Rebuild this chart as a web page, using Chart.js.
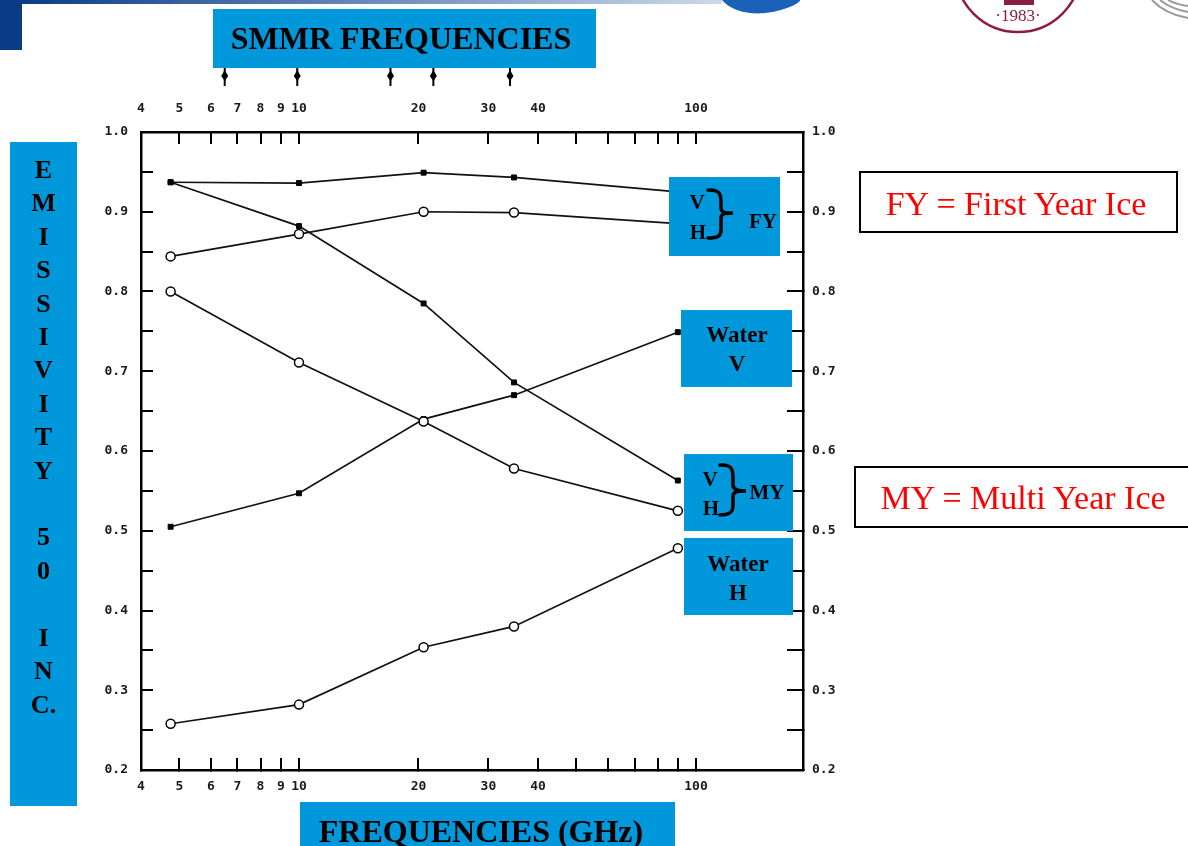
<!DOCTYPE html>
<html>
<head>
<meta charset="utf-8">
<script src="https://cdn.jsdelivr.net/npm/chart.js@4.4.1/dist/chart.umd.min.js"></script>
<style>
  html, body { margin: 0; padding: 0; background: #fff; }
  #page { position: relative; width: 1188px; height: 846px; overflow: hidden;
          font-family: "Liberation Serif", "Times New Roman", serif; }
  #page canvas { position: absolute; left: 0; top: 0; }
  .box { position: absolute; background: #0098da; }
  .t { position: absolute; transform: translate(-50%, -50%); font-weight: bold;
       color: #000; white-space: nowrap; line-height: 1; }
  .legend { position: absolute; box-sizing: border-box; border: 2px solid #000; background: #fff; }
  .red { position: absolute; transform: translate(-50%, -50%); color: #ff0000;
         font-size: 34px; line-height: 1; white-space: nowrap; }
  #vtext { position: absolute; left: 10px; top: 153px; width: 67px; text-align: center;
           font-weight: bold; font-size: 26px; line-height: 33.4px; }
  #deco { position: absolute; left: 0; top: 0; pointer-events: none; }
</style>
</head>
<body>
<div id="page">
  <canvas id="chart" width="1188" height="846"></canvas>

  <div class="box" style="left:213px;top:9px;width:383px;height:59px;"></div>
  <div class="box" style="left:10px;top:142px;width:67px;height:664px;"></div>
  <div class="box" style="left:300px;top:802px;width:375px;height:50px;"></div>
  <div class="box" style="left:669px;top:177px;width:111px;height:79px;"></div>
  <div class="box" style="left:681px;top:310px;width:111px;height:77px;"></div>
  <div class="box" style="left:684px;top:454px;width:109px;height:77px;"></div>
  <div class="box" style="left:684px;top:538px;width:109px;height:77px;"></div>

  <div class="legend" style="left:859px;top:171px;width:319px;height:62px;"></div>
  <div class="legend" style="left:854px;top:466px;width:345px;height:62px;"></div>

  <svg id="deco" width="1188" height="846">
    <defs>
      <linearGradient id="bar" x1="0" x2="1" y1="0" y2="0">
        <stop offset="0" stop-color="#0b3d86"/>
        <stop offset="1" stop-color="#cdd9ea"/>
      </linearGradient>
    </defs>
    <rect x="0" y="0" width="22" height="50" fill="#0b3d86"/>
    <rect x="22" y="0" width="700" height="4" fill="url(#bar)"/>
    <path d="M722 0 C730 10 748 15 765 13 C780 11 793 7 800 1 L800 0 Z" fill="#1a62b8"/>
    <circle cx="1018" cy="-31" r="63" fill="none" stroke="#8c1d40" stroke-width="2.5"/>
    <rect x="1004" y="0" width="30" height="5" fill="#8c1d40"/>
    <text x="1018" y="21" font-size="17" fill="#8c1d40" text-anchor="middle"
          font-family="Liberation Serif, serif">·1983·</text>
    <g fill="none" stroke="#9a9a9a" stroke-width="2">
      <path d="M1152 0 Q1165 14 1188 18"/>
      <path d="M1160 0 Q1171 9 1188 12"/>
      <path d="M1168 0 Q1177 5 1188 6"/>
    </g>
    <g fill="none" stroke="#000" stroke-width="3.5" stroke-linecap="round">
      <path d="M708 190 C721 189 721 196 721 204 L721 208 C721 212 724 213 733 213 C724 213 721 214 721 218 L721 230 C721 236 718 238 708 238"/>
      <path d="M720 465 C733 464 733 471 733 479 L733 485 C733 489 736 491 746 491 C736 491 733 492 733 496 L733 506 C733 512 730 515 720 515"/>
    </g>
  </svg>

  <div class="t" style="left:401px;top:38px;font-size:32px;">SMMR FREQUENCIES</div>
  <div class="t" style="left:481px;top:831px;font-size:32px;">FREQUENCIES (GHz)</div>
  <div id="vtext">E<br>M<br>I<br>S<br>S<br>I<br>V<br>I<br>T<br>Y<br>&nbsp;<br>5<br>0<br>&nbsp;<br>I<br>N<br>C.</div>

  <div class="t" style="left:697px;top:202px;font-size:21px;">V</div>
  <div class="t" style="left:698px;top:232px;font-size:21px;">H</div>
  <div class="t" style="left:763px;top:221px;font-size:21px;">FY</div>

  <div class="t" style="left:737px;top:334px;font-size:23px;">Water</div>
  <div class="t" style="left:737px;top:363px;font-size:23px;">V</div>

  <div class="t" style="left:710px;top:479px;font-size:21px;">V</div>
  <div class="t" style="left:711px;top:508px;font-size:21px;">H</div>
  <div class="t" style="left:767px;top:492px;font-size:21px;">MY</div>

  <div class="t" style="left:738px;top:563px;font-size:23px;">Water</div>
  <div class="t" style="left:738px;top:592px;font-size:23px;">H</div>

  <div class="red" style="left:1016px;top:204px;">FY = First Year Ice</div>
  <div class="red" style="left:1023px;top:498px;">MY = Multi Year Ice</div>
</div>

<script>
// frequencies (GHz) of the measured points
const freqs = [4.75, 10, 20.6, 34.8, 90];

// emissivity at 50 deg incidence
const fyV = [0.937, 0.936, 0.949, 0.943, 0.925];
const fyH = [0.844, 0.872, 0.900, 0.899, 0.885];
const myV = [0.937, 0.882, 0.785, 0.686, 0.563];
const myH = [0.800, 0.711, 0.637, 0.578, 0.525];
const waterV = [0.505, 0.547, 0.640, 0.670, 0.749];
const waterH = [0.258, 0.282, 0.354, 0.380, 0.478];

// SMMR channel arrows on the top axis
const smmrFreqs = [6.5, 9.9, 17, 21.8, 34];

const xTickValues = [4, 5, 6, 7, 8, 9, 10, 20, 30, 40, 50, 60, 70, 80, 90, 100];
const xTickLabels = ['4', '5', '6', '7', '8', '9', '10', '20', '30', '40', '', '', '', '', '', '100'];
const yTickValues = [0.2, 0.25, 0.3, 0.35, 0.4, 0.45, 0.5, 0.55, 0.6, 0.65, 0.7, 0.75, 0.8, 0.85, 0.9, 0.95, 1.0];
const yTickLabels = ['0.2', '', '0.3', '', '0.4', '', '0.5', '', '0.6', '', '0.7', '', '0.8', '', '0.9', '', '1.0'];

const toPoints = (vals) => freqs.map((f, i) => ({ x: f, y: vals[i] }));

const square = { pointStyle: 'rect', pointRadius: 3.5, pointBackgroundColor: '#000',
                 pointBorderColor: '#000', pointBorderWidth: 1 };
const circle = { pointStyle: 'circle', pointRadius: 4.5, pointBackgroundColor: '#fff',
                 pointBorderColor: '#000', pointBorderWidth: 1.5 };
const lineStyle = { borderColor: '#111', borderWidth: 1.7, fill: false, tension: 0 };

const tickFont = { family: 'DejaVu Sans Mono', size: 13, weight: 'bold' };
const tickGrid = (len) => ({ drawOnChartArea: false, drawTicks: true, tickLength: -len,
                             color: '#000', lineWidth: 2 });
const axisBorder = { display: true, color: '#000', width: 2.5 };

const setXTicks = (s) => { s.ticks = xTickValues.map(v => ({ value: v })); };
const setYTicks = (s) => { s.ticks = yTickValues.map(v => ({ value: v })); };

const xAxis = (position, height, padding) => ({
  type: 'logarithmic', position, min: 4, max: 186,
  afterBuildTicks: setXTicks,
  afterFit: (s) => { s.height = height; },
  border: axisBorder, grid: tickGrid(12),
  ticks: { autoSkip: false, maxRotation: 0, minRotation: 0, padding, color: '#1a1a1a',
           font: tickFont, callback: (v, i) => xTickLabels[i] }
});

const yAxis = (position, width, len, padding) => ({
  type: 'linear', position, min: 0.2, max: 1.0,
  afterBuildTicks: setYTicks,
  afterFit: (s) => { s.width = width; },
  border: axisBorder, grid: tickGrid(len),
  ticks: { autoSkip: false, padding, color: '#1a1a1a', font: tickFont,
           callback: (v, i) => yTickLabels[i] }
});

const smmrArrows = {
  id: 'smmrArrows',
  afterDraw(chart) {
    const s = chart.scales.x2;
    const ctx = chart.ctx;
    ctx.save();
    ctx.strokeStyle = '#000';
    ctx.fillStyle = '#000';
    ctx.lineWidth = 2;
    smmrFreqs.forEach(f => {
      const x = s.getPixelForValue(f);
      ctx.beginPath();
      ctx.moveTo(x, 68);
      ctx.lineTo(x, 86);
      ctx.stroke();
      ctx.beginPath();
      ctx.moveTo(x, 70);
      ctx.lineTo(x + 3.5, 76);
      ctx.lineTo(x, 81);
      ctx.lineTo(x - 3.5, 76);
      ctx.closePath();
      ctx.fill();
    });
    ctx.restore();
  }
};

new Chart(document.getElementById('chart'), {
  type: 'line',
  data: {
    datasets: [
      { label: 'FY V', data: toPoints(fyV), ...lineStyle, ...square },
      { label: 'FY H', data: toPoints(fyH), ...lineStyle, ...circle },
      { label: 'MY V', data: toPoints(myV), ...lineStyle, ...square },
      { label: 'MY H', data: toPoints(myH), ...lineStyle, ...circle },
      { label: 'Water V', data: toPoints(waterV), ...lineStyle, ...square },
      { label: 'Water H', data: toPoints(waterH), ...lineStyle, ...circle }
    ]
  },
  options: {
    responsive: false,
    animation: false,
    events: [],
    layout: { padding: 0 },
    plugins: { legend: { display: false }, tooltip: { enabled: false } },
    scales: {
      x: xAxis('bottom', 76, 21),
      x2: xAxis('top', 132, 28),
      y: yAxis('left', 141, 12, 25),
      y2: yAxis('right', 385, 16, 25)
    }
  },
  plugins: [smmrArrows]
});
</script>
</body>
</html>
